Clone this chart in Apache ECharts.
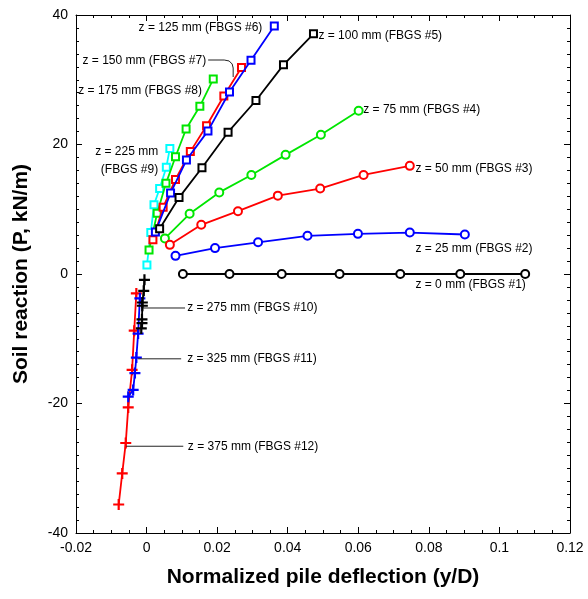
<!DOCTYPE html>
<html><head><meta charset="utf-8">
<script src="https://cdn.jsdelivr.net/npm/echarts@6/dist/echarts.min.js"></script>
<style>html,body{margin:0;padding:0;background:#fff}#c{width:588px;height:599px}</style>
</head><body><div id="c"></div>
<script>
// ---- data ----
const xTicks = ['-0.02','0','0.02','0.04','0.06','0.08','0.1','0.12'];
const seriesNames = ['z = 0 mm (FBGS #1)','z = 25 mm (FBGS #2)','z = 50 mm (FBGS #3)','z = 75 mm (FBGS #4)',
  'z = 100 mm (FBGS #5)','z = 125 mm (FBGS #6)','z = 150 mm (FBGS #7)','z = 175 mm (FBGS #8)',
  'z = 225 mm\n(FBGS #9)','z = 275 mm (FBGS #10)','z = 325 mm (FBGS #11)','z = 375 mm (FBGS #12)'];

const x1 = [0.0103,0.0235,0.0383,0.0547,0.0719,0.0889,0.1073];
const y1 = [0,0,0,0,0,0,0];
const x2 = [0.0082,0.0194,0.0316,0.0456,0.0599,0.0746,0.0902];
const y2 = [2.8,4.0,4.9,5.9,6.2,6.4,6.1];
const x3 = [0.0066,0.0155,0.0259,0.0372,0.0492,0.0615,0.0746];
const y3 = [4.5,7.6,9.7,12.1,13.2,15.3,16.7];
const x4 = [0.0052,0.0122,0.0206,0.0297,0.0394,0.0494,0.0601];
const y4 = [5.5,9.3,12.6,15.3,18.4,21.5,25.2];
const x5 = [0.0037,0.0092,0.0157,0.0231,0.0310,0.0388,0.0473];
const y5 = [7.0,11.8,16.4,21.9,26.8,32.3,37.1];
const x6 = [0.0025,0.0068,0.0113,0.0174,0.0235,0.0296,0.0362];
const y6 = [6.5,12.5,17.6,22.1,28.1,33.0,38.3];
const x7 = [0.0018,0.0047,0.0082,0.0124,0.0170,0.0219,0.0269];
const y7 = [5.3,10.3,14.6,18.9,22.9,27.5,31.9];
const x8 = [0.0007,0.0030,0.0055,0.0082,0.0112,0.0151,0.0189];
const y8 = [3.7,9.4,14.0,18.1,22.4,25.9,30.1];
const x9 = [0.0001,0.0012,0.0021,0.0037,0.0056,0.0066];
const y9 = [1.4,6.4,10.7,13.2,16.5,19.4];
const x10 = [-0.0006,-0.0008,-0.0012,-0.0012,-0.0013,-0.0013,-0.0015];
const y10 = [-0.9,-2.6,-4.4,-4.9,-7.0,-7.6,-8.4];
const x11 = [-0.0019,-0.0024,-0.0029,-0.0033,-0.0038,-0.0052];
const y11 = [-3.75,-9.2,-12.9,-15.3,-17.9,-18.95];
const x12 = [-0.0029,-0.0035,-0.0041,-0.0052,-0.0059,-0.0069,-0.0079];
const y12 = [-3.0,-8.75,-14.8,-20.6,-26.1,-30.8,-35.6];

const allX = [x1,x2,x3,x4,x5,x6,x7,x8,x9,x10,x11,x12];
const allY = [y1,y2,y3,y4,y5,y6,y7,y8,y9,y10,y11,y12];

// ---- styles / layout ----
const colors = ['#000','#0000ff','#ff0000','#00e600','#000','#0000ff','#ff0000','#00e600','#00ffff','#000','#0000ff','#ff0000'];
const PLUS = 'path://M4,0H6V4H10V6H6V10H4V6H0V4H4Z';
const symbols = ['emptyCircle','emptyCircle','emptyCircle','emptyCircle','emptyRect','emptyRect','emptyRect','emptyRect','emptyRect',PLUS,PLUS,PLUS];
// label anchors in data units: [x, y, align]
const labelAnchor = [
  [0.0762,-1.7,'left'],[0.0762,3.86,'left'],[0.0762,16.2,'left'],[0.0614,25.3,'left'],
  [0.0487,36.75,'left'],[0.0328,38.1,'right'],[0.0169,33.0,'right'],[0.0157,28.3,'right'],
  [0.0033,17.45,'right'],[0.0115,-5.25,'left'],[0.0115,-13.1,'left'],[0.0117,-26.6,'left']];
const leaders = [
  [[0.01745,33.05],[0.0220,33.05],[0.0234,32.9],[0.02426,32.43],[0.02454,31.81],[0.02454,30.42]],
  [[-0.0010,-5.25],[0.0109,-5.25]],
  [[-0.0024,-13.1],[0.0098,-13.1]],
  [[-0.0058,-26.6],[0.0104,-26.6]]];

const FONT = '"Liberation Sans", Arial, Helvetica, sans-serif';
const chart = echarts.init(document.getElementById('c'));

const series = allX.map((xs, i) => ({
  type: 'line', name: seriesNames[i],
  data: xs.map((x, j) => [x, allY[i][j]]),
  symbol: symbols[i],
  symbolSize: i >= 9 ? 11 : (i < 4 ? 8 : 7),
  showAllSymbol: true,
  lineStyle: { color: colors[i], width: 1.8 },
  itemStyle: { color: colors[i], borderColor: colors[i], borderWidth: i >= 9 ? 0 : 2 },
  animation: false, z: 3 + (12 - i)
}));

const axisCommon = {
  axisLine: { show: true, onZero: false, lineStyle: { color: '#000', width: 1 } },
  axisTick: { show: true, inside: true, length: 6, lineStyle: { color: '#000' } },
  minorTick: { show: true, length: 3, lineStyle: { color: '#000' } },
  splitLine: { show: false }
};

chart.setOption({
  animation: false,
  backgroundColor: '#fff',
  grid: { left: 76, right: 18, top: 15, bottom: 66, containLabel: false },
  xAxis: [
    Object.assign({ type: 'value', min: -0.02, max: 0.12, interval: 0.02, position: 'bottom',
      axisLabel: { color: '#000', fontSize: 14, fontFamily: FONT, margin: 8,
        formatter: v => xTicks[Math.round((v + 0.02) / 0.02)] },
      name: 'Normalized pile deflection (y/D)', nameLocation: 'middle', nameGap: 34,
      nameTextStyle: { color: '#000', fontSize: 21, fontWeight: 'bold', fontFamily: FONT } }, axisCommon,
      { minorTick: { show: true, splitNumber: 4, length: 3, lineStyle: { color: '#000' } } }),
    Object.assign({ type: 'value', min: -0.02, max: 0.12, interval: 0.02, position: 'top',
      axisLabel: { show: false } }, axisCommon,
      { minorTick: { show: true, splitNumber: 4, length: 3, lineStyle: { color: '#000' } } })
  ],
  yAxis: [
    Object.assign({ type: 'value', min: -40, max: 40, interval: 20, position: 'left',
      axisLabel: { color: '#000', fontSize: 14, fontFamily: FONT, margin: 8 },
      name: 'Soil reaction (P, kN/m)', nameLocation: 'middle', nameGap: 44, nameRotate: 90,
      nameTextStyle: { color: '#000', fontSize: 21, fontWeight: 'bold', fontFamily: FONT } }, axisCommon,
      { minorTick: { show: true, splitNumber: 10, length: 3, lineStyle: { color: '#000' } } }),
    Object.assign({ type: 'value', min: -40, max: 40, interval: 20, position: 'right',
      axisLabel: { show: false } }, axisCommon,
      { minorTick: { show: true, splitNumber: 10, length: 3, lineStyle: { color: '#000' } } })
  ],
  series: series
});

// annotations placed through the chart's own coordinate conversion
const toPx = p => chart.convertToPixel({ seriesIndex: 0 }, p);
const graphics = [];
labelAnchor.forEach((a, i) => {
  const p = toPx([a[0], a[1]]);
  graphics.push({ type: 'text', z: 50, silent: true,
    style: { text: seriesNames[i], x: p[0], y: p[1], fill: '#000',
      font: '12px ' + FONT, align: a[2], textAlign: a[2],
      verticalAlign: 'middle', textVerticalAlign: 'middle', lineHeight: 18 } });
});
leaders.forEach(pts => {
  graphics.push({ type: 'polyline', z: 40, silent: true,
    shape: { points: pts.map(toPx) },
    style: { stroke: '#222', lineWidth: 1, fill: null } });
});
chart.setOption({ graphic: graphics });
</script></body></html>
